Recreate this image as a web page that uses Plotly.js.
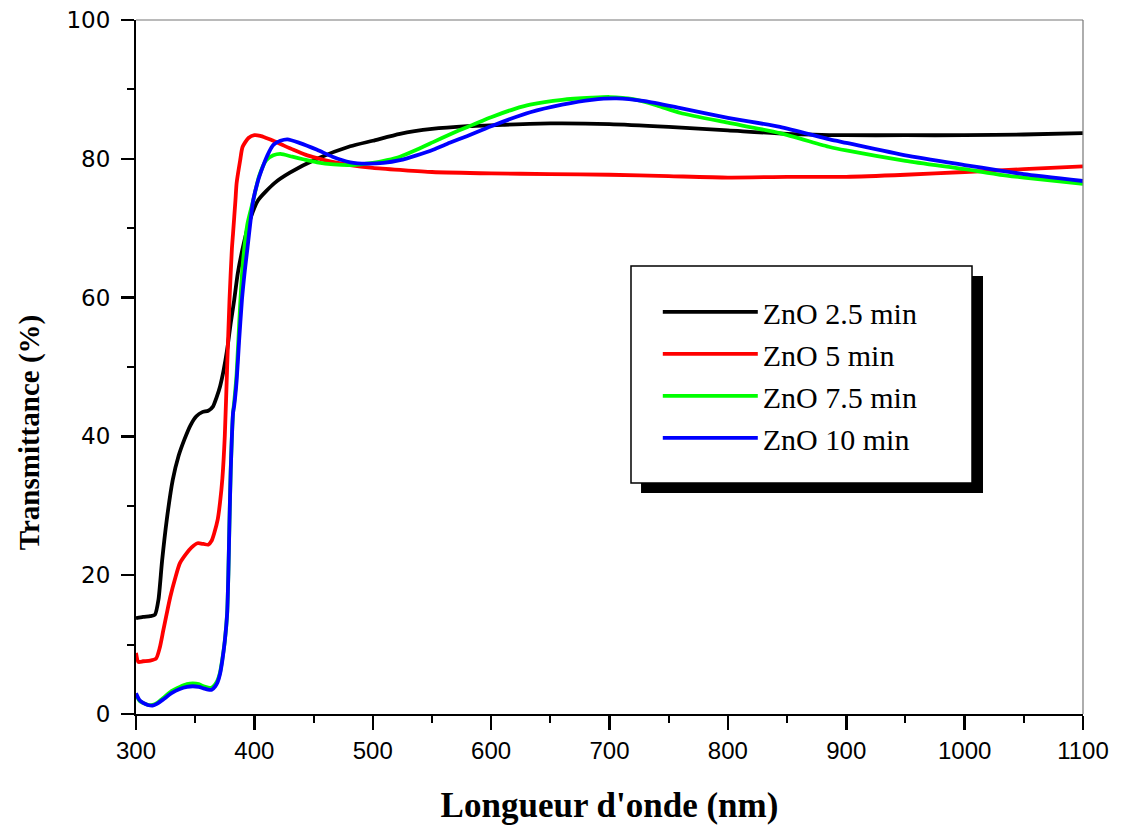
<!DOCTYPE html>
<html>
<head>
<meta charset="utf-8">
<script src="https://cdn.plot.ly/plotly-3.0.1.min.js"></script>
<style>html,body{margin:0;padding:0;background:#fff;}#chart{width:1121px;height:825px;}</style>
</head>
<body>
<div id="chart"></div>
<script>
// Data
const seriesNames = ["ZnO 2.5 min", "ZnO 5 min", "ZnO 7.5 min", "ZnO 10 min"];

const wl_25 = [300,306,312,316,319,322,326,331,336,341,346,351,356,361,365,368,371,374,377,380,383,386,390,395,403,417,430,453,481,500,523,550,580,610,650,700,750,800,850,900,950,1000,1050,1100];
const t_25  = [13.8,14.0,14.1,14.3,16.5,22,28,33.7,37.2,39.6,41.6,42.9,43.5,43.7,44.3,45.6,47.2,49.5,52.5,56.3,59.7,63.5,67,70.5,74,76.5,78,80,81.8,82.6,83.6,84.3,84.7,84.9,85.1,85.0,84.6,84.1,83.6,83.4,83.4,83.4,83.5,83.7];

const wl_5 = [300,302,306,312,317,320,323,326,329,333,337,342,347,352,357,361,364,366,369,371,373,375,377,379,381,382,384,385,388,390,395,400,405,410,416,425,433,443,453,465,481,500,523,550,600,650,700,750,800,850,900,950,1000,1050,1100];
const t_5  = [8.8,7.5,7.6,7.7,8.0,9.5,12,14.5,16.9,19.5,21.7,23,24,24.6,24.5,24.4,25,26,28,30.5,34,40,50,59.7,67,69.3,74,76.5,79.8,81.7,83,83.4,83.3,83,82.6,81.9,81.3,80.6,80.1,79.6,79.1,78.7,78.4,78.1,77.9,77.8,77.7,77.5,77.3,77.4,77.4,77.7,78.1,78.5,78.9];

const wl_75 = [300,303,306,310,314,318,323,330,337,343,348,353,357,361,364,367,369,371,373,375,377,378,379,380,382,383,385,388,390,394,399,404,410,416,422,432,442,453,467,481,500,512,523,537,551,565,580,600,620,633,660,685,700,720,740,760,800,844,886,900,950,1000,1030,1050,1100];
const t_75  = [2.8,1.9,1.6,1.3,1.3,1.6,2.3,3.3,3.9,4.3,4.4,4.3,4.0,3.8,3.8,4.3,4.9,6.0,8,10.5,14.5,20,28,35,43.4,45,49,59,64.4,70.5,74,77.5,79.8,80.5,80.7,80.3,79.9,79.5,79.2,79.1,79.4,79.8,80.3,81.3,82.4,83.5,84.6,86.0,87.2,87.8,88.5,88.8,88.9,88.6,87.7,86.6,85.2,83.7,81.7,81.2,79.7,78.5,77.7,77.3,76.4];

const wl_10 = [300,303,306,310,314,318,323,330,337,343,348,353,357,361,364,367,369,371,373,375,377,378,379,380,382,383,385,387,389.5,392,394,399,403,407,411,416,422,428,438,453,466,481,495,509,523,537,551,565,580,600,633,660,685,706,730,760,800,844,886,900,950,1000,1030,1050,1100];
const t_10  = [3.0,2.0,1.6,1.3,1.2,1.5,2.1,3.0,3.6,3.9,4.0,3.9,3.7,3.5,3.5,4.0,4.6,5.8,7.8,10.5,14.5,20,28,35,43.4,44.5,48,53.5,59.7,64,66.9,74,76.8,78.8,80.5,82,82.6,82.8,82.3,81.3,80.3,79.5,79.3,79.4,79.8,80.5,81.3,82.3,83.3,84.7,86.7,87.8,88.5,88.7,88.3,87.3,85.9,84.6,82.8,82.3,80.5,79.1,78.3,77.8,76.8];

const xTickVals = [300,400,500,600,700,800,900,1000,1100];
const yTickVals = [0,20,40,60,80,100];
const xTitle = "Longueur d'onde (nm)";
const yTitle = "Transmittance (%)";

const colors = ["#000000","#ff0000","#00ff00","#0000ff"];
const xs = [wl_25, wl_5, wl_75, wl_10];
const ys = [t_25, t_5, t_75, t_10];

const traces = xs.map((x, i) => ({
  x: x, y: ys[i], name: seriesNames[i], type: "scatter", mode: "lines",
  legendgroup: "g" + i,
  line: {color: colors[i], width: 3.8, shape: "spline", smoothing: 0.6}
}));

const layout = {
  width: 1121, height: 825,
  margin: {l: 136, r: 38, t: 20, b: 111},
  paper_bgcolor: "#ffffff", plot_bgcolor: "#ffffff",
  showlegend: true,
  legend: {
    x: 0.551, y: 0.617, xanchor: "left", yanchor: "top",
    bgcolor: "rgba(0,0,0,0)", borderwidth: 0,
    font: {family: "Liberation Serif", size: 30, color: "#000"},
    itemwidth: 95, tracegroupgap: 0, traceorder: "grouped"
  },
  xaxis: {
    range: [300, 1100], tickvals: xTickVals, ticktext: xTickVals.map(String),
    showgrid: false, zeroline: false,
    showline: true, linecolor: "#000", linewidth: 2,
    ticks: "outside", ticklen: 14, tickwidth: 2.5, tickcolor: "#000",
    minor: {dtick: 50, tick0: 300, ticks: "outside", ticklen: 7, tickwidth: 2, tickcolor: "#000", showgrid: false},
    tickfont: {family: "Liberation Sans Narrow, Liberation Sans", size: 24, color: "#000"},
    title: {text: xTitle, font: {family: "Liberation Serif", size: 35, color: "#000", weight: "bold"}, standoff: 38}
  },
  yaxis: {
    range: [0, 100], tickvals: yTickVals, ticktext: yTickVals.map(String),
    showgrid: false, zeroline: false,
    showline: true, linecolor: "#000", linewidth: 2,
    ticks: "outside", ticklen: 13, tickwidth: 2.5, tickcolor: "#000",
    ticklabelstandoff: 6,
    minor: {dtick: 10, tick0: 0, ticks: "outside", ticklen: 7, tickwidth: 2, tickcolor: "#000", showgrid: false},
    tickfont: {family: "DejaVu Sans", size: 23, color: "#000"}
  },
  annotations: [
    {text: yTitle, xref: "paper", yref: "paper", x: -0.113, y: 0.406, xanchor: "center", yanchor: "middle",
     textangle: -90, showarrow: false, font: {family: "Liberation Serif", size: 29, color: "#000", weight: "bold"}}
  ],
  shapes: [
    {type: "line", xref: "paper", yref: "paper", x0: 0, x1: 1, y0: 1, y1: 1, line: {color: "#777", width: 1.2}},
    {type: "line", xref: "paper", yref: "paper", x0: 1, x1: 1, y0: 0, y1: 1, line: {color: "#777", width: 1.2}},
    {type: "rect", xref: "paper", yref: "paper", x0: 0.5333, x1: 0.8944, y0: 0.3184, y1: 0.6311, fillcolor: "#000", line: {width: 0}, layer: "above"},
    {type: "rect", xref: "paper", yref: "paper", x0: 0.5227, x1: 0.8828, y0: 0.3329, y1: 0.6455, fillcolor: "#fff", line: {color: "#000", width: 1.5}, layer: "above"}
  ]
};

Plotly.newPlot("chart", traces, layout, {displayModeBar: false, staticPlot: true});
</script>
</body>
</html>
